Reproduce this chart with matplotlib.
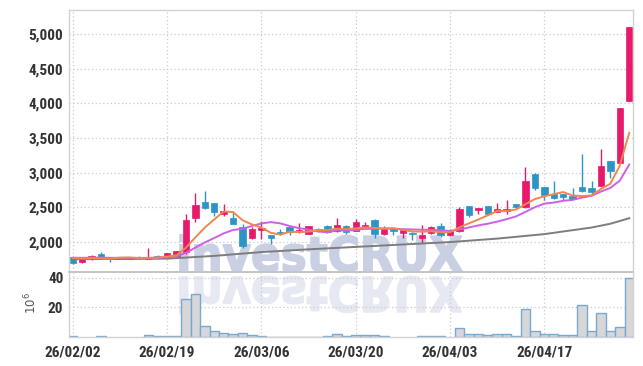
import matplotlib
matplotlib.use('Agg')
import matplotlib.pyplot as plt
import numpy as np
import pandas as pd
from matplotlib.textpath import TextPath
from matplotlib.patches import PathPatch
from matplotlib.font_manager import FontProperties, findfont
from matplotlib.transforms import Affine2D

# daily candles, 60 sessions
opens = [1775, 1710, 1745, 1820, 1770, 1750, 1755, 1780, 1755, 1800,
         1785, 1800, 1855, 2350, 2570, 2555, 2405, 2350, 2220, 2060,
         2175, 2090, 2145, 2210, 2145, 2115, 2190, 2225, 2155, 2225,
         2160, 2200, 2315, 2115, 2190, 2130, 2125, 2060, 2130, 2225,
         2100, 2155, 2510, 2460, 2510, 2430, 2440, 2545, 2495, 2985,
         2785, 2690, 2690, 2655, 2785, 2770, 2805, 3165, 3140, 4040]
highs = [1785, 1760, 1805, 1850, 1780, 1775, 1775, 1790, 1915, 1810,
         1840, 1870, 2395, 2710, 2730, 2565, 2540, 2450, 2250, 2215,
         2300, 2095, 2180, 2225, 2265, 2230, 2205, 2240, 2340, 2235,
         2330, 2290, 2325, 2230, 2205, 2180, 2145, 2240, 2225, 2265,
         2185, 2505, 2515, 2490, 2515, 2565, 2610, 2550, 3080, 2990,
         2790, 2875, 2695, 2780, 3265, 2875, 3335, 3170, 3935, 5110]
lows = [1680, 1695, 1740, 1770, 1705, 1745, 1750, 1755, 1750, 1765,
        1780, 1795, 1820, 2280, 2470, 2370, 2370, 2250, 1905, 2045,
        2040, 1960, 2095, 2095, 2120, 2115, 2135, 2120, 2145, 2115,
        2150, 2180, 2050, 2095, 2100, 2060, 2025, 1975, 2115, 2070,
        2085, 2145, 2360, 2400, 2390, 2425, 2400, 2485, 2490, 2745,
        2600, 2625, 2600, 2620, 2720, 2670, 2800, 2915, 3135, 4035]
closes = [1690, 1755, 1800, 1775, 1750, 1770, 1770, 1760, 1785, 1775,
          1835, 1865, 2310, 2530, 2485, 2425, 2440, 2260, 1945, 2180,
          2200, 2060, 2130, 2145, 2170, 2225, 2170, 2135, 2240, 2135,
          2285, 2240, 2105, 2190, 2155, 2170, 2115, 2100, 2215, 2095,
          2160, 2470, 2390, 2490, 2400, 2470, 2475, 2495, 2875, 2770,
          2670, 2630, 2645, 2625, 2730, 2720, 3095, 3025, 3930, 5105]
# closes before the first session (for the short averages)
prev_closes = [1770, 1765, 1780, 1775, 1770, 1785, 1780, 1790, 1775]
# volume in millions
volumes = [0.5, 0.03, 0.03, 0.5, 0.03, 0.03, 0.03, 0.03, 1.1, 0.4,
           0.4, 0.4, 25.7, 28.8, 7.2, 4.0, 2.5, 1.8, 2.5, 1.1,
           0.4, 0.3, 0.3, 0.3, 0.3, 0.3, 0.3, 0.4, 1.8, 0.5,
           1.1, 1.1, 1.1, 0.5, 0.03, 0.03, 0.03, 0.5, 0.5, 0.5,
           0.03, 5.9, 1.8, 1.8, 1.1, 1.8, 1.8, 0.5, 18.9, 4.0,
           1.8, 1.8, 1.1, 1.1, 21.4, 4.0, 16.0, 4.0, 6.5, 39.6]
# long moving average
ma_long_x = [0, 5, 10, 15, 20, 25, 30, 35, 40, 45, 50, 55, 57, 59]
ma_long_y = [1748, 1750, 1755, 1795, 1850, 1890, 1925, 1960, 1995, 2045, 2110, 2205, 2260, 2340]

tick_pos = [0, 10, 20, 30, 40, 50]
tick_labels = ['26/02/02', '26/02/19', '26/03/06', '26/03/20', '26/04/03', '26/04/17']

price_ticks = [2000, 2500, 3000, 3500, 4000, 4500, 5000]
vol_ticks = [20, 40]

UP = '#e8196a'
DOWN = '#2d94c6'
GRID = '#c6cadb'
SPINE = '#d2d2d2'
TXT = '#333333'
tick_font = ['Roboto Condensed', 'Liberation Sans Narrow', 'Roboto']

x = np.arange(len(closes))
o = np.array(opens); h = np.array(highs); l = np.array(lows); c = np.array(closes)
allc = pd.Series(prev_closes + closes)
ma5 = allc.rolling(5).mean().values[len(prev_closes):]
ma10 = allc.rolling(10).mean().values[len(prev_closes):]

fig = plt.figure(figsize=(6.43, 3.66), dpi=100)
W, H = 643, 366
left, right = 69 / W, 633 / W
ax = fig.add_axes([left, 1 - 272 / H, right - left, (272 - 9.5) / H])
axv = fig.add_axes([left, 1 - 337 / H, right - left, (337 - 272) / H], sharex=ax)

# watermark with its reflection
fp = FontProperties(family='DejaVu Sans', weight='bold')
tp = TextPath((0, 0), 'investCRUX', size=1, prop=fp)
ext = tp.get_extents()
sx = 282 / ext.width
sy = 37 / ext.height
t_up = Affine2D().translate(-ext.x0, 0).scale(sx, sy).translate(180, H - 271)
t_dn = Affine2D().translate(-ext.x0, 0).scale(sx, -sy).translate(180, H - 277)
fig.add_artist(PathPatch(tp, transform=t_up, fc='#c9d0e3', ec='#c9d0e3', lw=1.2, zorder=-2))
fig.add_artist(PathPatch(tp, transform=t_dn, fc='#e7e9f2', ec='#e7e9f2', lw=1.2, zorder=-2))

for a in (ax, axv):
    a.set_facecolor('none')
    a.grid(True, ls=(0, (1, 2)), color=GRID, lw=0.9)
    a.set_axisbelow(True)
    a.tick_params(length=0, labelsize=11, labelcolor=TXT, pad=4)
    for s in a.spines.values():
        s.set_color(SPINE)
        s.set_linewidth(1.0)

# candles
colors = [UP if cc >= oo else DOWN for oo, cc in zip(o, c)]
ax.vlines(x, l, h, colors=colors, lw=1.0, zorder=2)
ax.bar(x, np.abs(c - o), bottom=np.minimum(o, c), width=0.68, color=colors,
       edgecolor=colors, lw=0.5, zorder=2)

ax.plot(ma_long_x, ma_long_y, color='#7d7d7d', lw=1.4, zorder=3)
ax.plot(x, ma10, color='#cf5fe8', lw=1.4, zorder=3)
ax.plot(x, ma5, color='#f0874c', lw=1.4, zorder=3)

ax.set_ylim(1562, 5359)
ax.set_yticks(price_ticks)
ax.set_yticklabels(['{:,}'.format(v) for v in price_ticks])
ax.set_xlim(-0.4, 59.4)
ax.spines['bottom'].set_color('#c4c4c4')
ax.spines['bottom'].set_linewidth(1.4)
plt.setp(ax.get_xticklabels(), visible=False)

# volume
vedge = ['#7aa9cf' if v > 0.1 else 'none' for v in volumes]
axv.bar(x, volumes, width=1.0, color='#d7d7d9', edgecolor=vedge, lw=1.0, zorder=2)
axv.set_ylim(0, 43.7)
axv.set_yticks(vol_ticks)
axv.spines['top'].set_visible(False)
axv.set_xticks(tick_pos)
axv.set_xticklabels(tick_labels)
axv.tick_params(axis='x', pad=6)
axv.text(-0.068, 0.52, '$10^6$', transform=axv.transAxes, rotation=90,
         ha='center', va='center', fontsize=8.5, color='#555555')

for lab in ax.get_yticklabels() + axv.get_yticklabels() + axv.get_xticklabels():
    lab.set_family(tick_font)
    lab.set_fontweight('bold')
    lab.set_stretch('condensed')

fig.savefig('out.png', dpi=100)
